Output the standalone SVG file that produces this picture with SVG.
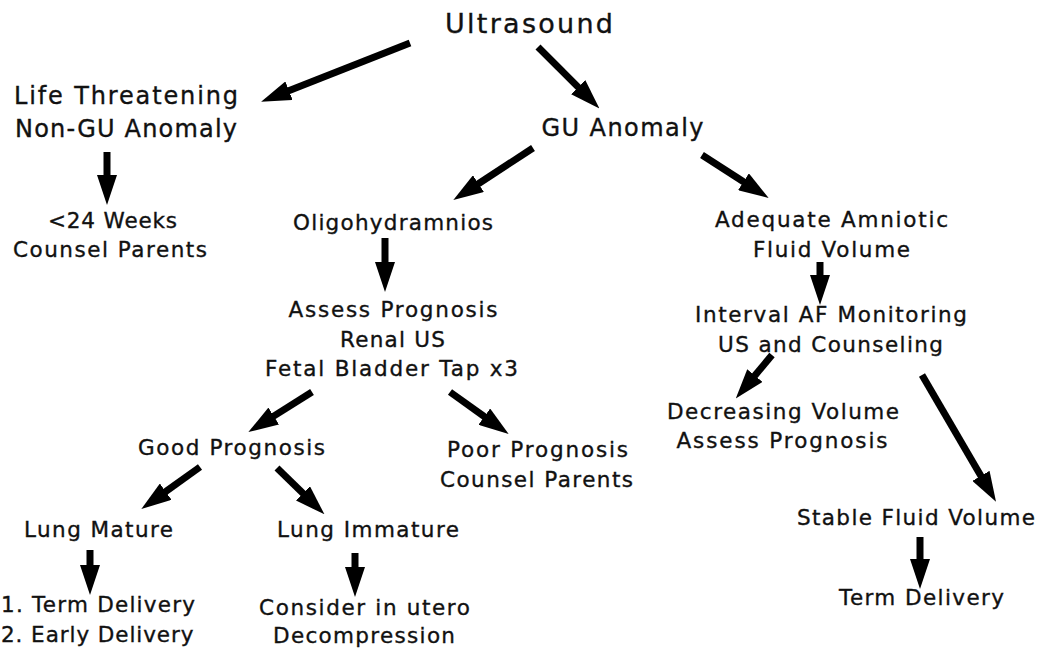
<svg xmlns="http://www.w3.org/2000/svg" width="1041" height="650" viewBox="0 0 1041 650">
<style>
text{font-family:"DejaVu Sans","Verdana",sans-serif;fill:#111;stroke:#111;stroke-width:0.35px;text-anchor:middle}
.xl{font-size:27px}
.l{font-size:24px}
.m{font-size:21.5px}
.s{text-anchor:start}
.c line{stroke:#000;stroke-width:7;marker-end:url(#ah)}
</style>
<defs>
<marker id="ah" markerUnits="userSpaceOnUse" markerWidth="30" markerHeight="20" refX="1" refY="10" orient="auto" viewBox="0 0 30 20">
<path d="M0,0 L30,10 L0,20 z" fill="#000"/>
</marker>
</defs>
<rect width="1041" height="650" fill="#fff"/>
<g id="n-ultrasound"><text class="xl" x="529" y="33" textLength="168" lengthAdjust="spacing">Ultrasound</text></g>
<g id="n-life"><text class="l" x="126" y="104" textLength="224" lengthAdjust="spacing">Life Threatening</text><text class="l" x="126" y="137" textLength="222" lengthAdjust="spacing">Non-GU Anomaly</text></g>
<g id="n-gu"><text class="l" x="622.5" y="136" textLength="162" lengthAdjust="spacing">GU Anomaly</text></g>
<g id="n-24weeks"><text class="m" x="112.5" y="228" textLength="129" lengthAdjust="spacing">&lt;24 Weeks</text><text class="m" x="110" y="257" textLength="194" lengthAdjust="spacing">Counsel Parents</text></g>
<g id="n-oligo"><text class="m" x="393" y="230" textLength="200" lengthAdjust="spacing">Oligohydramnios</text></g>
<g id="n-adequate"><text class="m" x="831.5" y="227" textLength="233" lengthAdjust="spacing">Adequate Amniotic</text><text class="m" x="831.5" y="257" textLength="157" lengthAdjust="spacing">Fluid Volume</text></g>
<g id="n-assess"><text class="m" x="393" y="317" textLength="209" lengthAdjust="spacing">Assess Prognosis</text><text class="m" x="392.5" y="347" textLength="105" lengthAdjust="spacing">Renal US</text><text class="m" x="391.5" y="376" textLength="253" lengthAdjust="spacing">Fetal Bladder Tap x3</text></g>
<g id="n-interval"><text class="m" x="831" y="322" textLength="272" lengthAdjust="spacing">Interval AF Monitoring</text><text class="m" x="830.5" y="352" textLength="225" lengthAdjust="spacing">US and Counseling</text></g>
<g id="n-decreasing"><text class="m" x="783" y="419" textLength="232" lengthAdjust="spacing">Decreasing Volume</text><text class="m" x="782" y="448" textLength="211" lengthAdjust="spacing">Assess Prognosis</text></g>
<g id="n-good"><text class="m" x="231.5" y="455" textLength="187" lengthAdjust="spacing">Good Prognosis</text></g>
<g id="n-poor"><text class="m" x="537.5" y="457" textLength="181" lengthAdjust="spacing">Poor Prognosis</text><text class="m" x="536.5" y="487" textLength="193" lengthAdjust="spacing">Counsel Parents</text></g>
<g id="n-lungmature"><text class="m" x="98.5" y="537" textLength="149" lengthAdjust="spacing">Lung Mature</text></g>
<g id="n-lungimmature"><text class="m" x="368" y="537" textLength="182" lengthAdjust="spacing">Lung Immature</text></g>
<g id="n-stable"><text class="m" x="916" y="525" textLength="238" lengthAdjust="spacing">Stable Fluid Volume</text></g>
<g id="n-delivery"><text class="m s" x="1" y="612" textLength="194" lengthAdjust="spacing">1. Term Delivery</text><text class="m s" x="1" y="642" textLength="192.5" lengthAdjust="spacing">2. Early Delivery</text></g>
<g id="n-consider"><text class="m" x="364.5" y="615" textLength="211" lengthAdjust="spacing">Consider in utero</text><text class="m" x="364" y="643" textLength="182" lengthAdjust="spacing">Decompression</text></g>
<g id="n-termdelivery"><text class="m" x="921.5" y="605" textLength="165" lengthAdjust="spacing">Term Delivery</text></g>
<g id="connectors" class="c">
<line x1="410" y1="43" x2="288.1" y2="91.1"/>
<line x1="538" y1="47" x2="578.9" y2="87.9"/>
<line x1="533" y1="148" x2="477.6" y2="184.2"/>
<line x1="702" y1="155" x2="744.3" y2="182.3"/>
<line x1="107" y1="152" x2="107" y2="176"/>
<line x1="385" y1="238" x2="385" y2="263"/>
<line x1="820" y1="262" x2="820" y2="276"/>
<line x1="312" y1="392" x2="272.9" y2="416.6"/>
<line x1="450" y1="392" x2="485.1" y2="417.2"/>
<line x1="200" y1="467" x2="164.9" y2="492.2"/>
<line x1="277" y1="468" x2="303.7" y2="494.1"/>
<line x1="90" y1="550" x2="90" y2="566"/>
<line x1="355" y1="553" x2="355" y2="568"/>
<line x1="772" y1="355" x2="754.3" y2="376.3"/>
<line x1="922" y1="375" x2="981.4" y2="476.7"/>
<line x1="920" y1="537" x2="920" y2="560"/>
</g>
</svg>
